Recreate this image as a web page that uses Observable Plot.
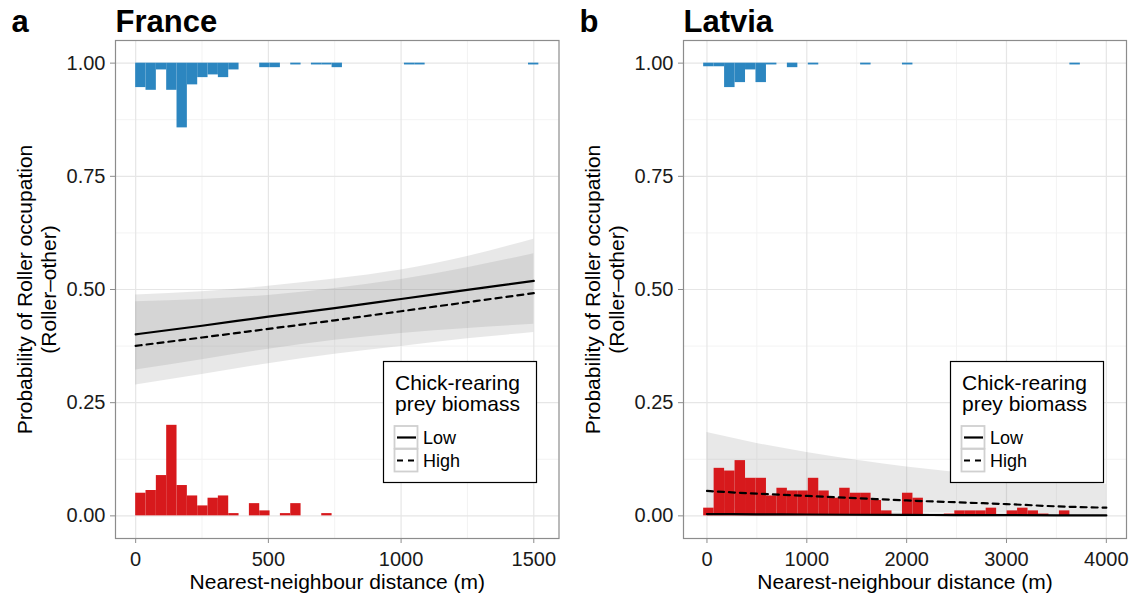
<!DOCTYPE html>
<html><head><meta charset="utf-8">
<script src="https://cdn.jsdelivr.net/npm/d3@7"></script>
<script src="https://cdn.jsdelivr.net/npm/@observablehq/plot@0.6"></script>
<style>
body{margin:0;background:#fff;font-family:"Liberation Sans",Arial,sans-serif;}
#wrap{position:relative;width:1141px;height:597px;overflow:hidden;background:#fff;}
#wrap > div, #wrap > svg{position:absolute;top:0;}
</style></head>
<body><div id="wrap"></div>
<script>
// ---------- France data ----------
const franceBinStart = 0, franceBinWidth = 38.95;
const franceRed  = [0.050,0.056,0.089,0.200,0.067,0.044,0.022,0.039,0.044,0.005,0,0.027,0.011,0,0.005,0.027,0,0,0.005];
const franceBlue = [0.054,0.060,0.015,0.060,0.143,0.048,0.032,0.026,0.032,0.015,0,0,0.010,0.010,0,0.004,0,0.004,0.004,0.010,0,0,0,0,0,0,0.004,0.004,0,0,0,0,0,0,0,0,0,0,0.004];
const franceX        = [0,250,500,750,1000,1250,1500];
const franceLow      = [0.401,0.420,0.440,0.459,0.479,0.499,0.519];
const franceHigh     = [0.3755,0.394,0.413,0.432,0.452,0.472,0.492];
const franceLowUpper = [0.488,0.495,0.507,0.523,0.543,0.573,0.611];
const franceLowLower = [0.322,0.345,0.368,0.388,0.403,0.414,0.423];
const franceHighUpper= [0.473,0.478,0.487,0.502,0.522,0.548,0.579];
const franceHighLower= [0.289,0.312,0.336,0.357,0.374,0.391,0.405];
const franceTicks = [0,500,1000,1500];

// ---------- Latvia data ----------
const latviaBinStart = -33, latviaBinWidth = 104.8;
const latviaRed  = [0.017,0.105,0.099,0.122,0.083,0.083,0.044,0.061,0.055,0.055,0.083,0.055,0.039,0.061,0.050,0.050,0.034,0.011,0,0.050,0.039,0,0,0.004,0.011,0.011,0.011,0.017,0,0.011,0.017,0.011,0.004,0,0.011,0];
const latviaBlue = [0.008,0.008,0.054,0.043,0.015,0.043,0.004,0,0.010,0,0.004,0,0,0,0,0.004,0,0,0,0.004,0,0,0,0,0,0,0,0,0,0,0,0,0,0,0,0.004];
const latviaX         = [0,500,1000,1500,2000,2500,3000,3500,4000];
const latviaLow       = [0.004,0.0035,0.003,0.0025,0.002,0.0018,0.0015,0.0012,0.001];
const latviaHigh      = [0.055,0.049,0.044,0.039,0.034,0.030,0.026,0.021,0.018];
const latviaHighUpper = [0.184,0.160,0.140,0.123,0.108,0.096,0.086,0.077,0.070];
const latviaHighLower = [0.016,0.014,0.012,0.010,0.008,0.007,0.006,0.005,0.004];
const latviaLowUpper  = [0.012,0.010,0.009,0.008,0.007,0.006,0.005,0.005,0.004];
const latviaLowLower  = [0.001,0.001,0.001,0.0005,0.0005,0.0004,0.0003,0.0002,0.0002];
const latviaTicks = [0,1000,2000,3000,4000];

const yTicks = [0,0.25,0.5,0.75,1];
const yMinor = [0.125,0.375,0.625,0.875];
const legendTitle = ["Chick-rearing","prey biomass"];
const legendLabels = ["Low","High"];

const RED = "#d7191c", BLUE = "#2c86c0";

function bins(heights, start, width, top){
  return heights.map((h,i)=>({x1:start+i*width, x2:start+(i+1)*width, y1: top ? 1-h : 0, y2: top ? 1 : h}))
                .filter(d=>d.y2>d.y1);
}
function series(xs, ys){ return xs.map((x,i)=>({x, y:ys[i]})); }
function band(xs, lo, hi){ return xs.map((x,i)=>({x, y1:lo[i], y2:hi[i]})); }

function panel(o){
  const majorX = o.ticks, minorX = o.ticks.slice(0,-1).map((t,i)=>(t+o.ticks[i+1])/2);
  return Plot.plot({
    width:o.width, height:597,
    marginLeft:o.ml, marginRight:o.mr, marginTop:40, marginBottom:59,
    style:{fontFamily:"Liberation Sans, Arial, sans-serif", fontSize:"20px", color:"#1a1a1a", background:"transparent"},
    x:{domain:o.xdomain, label:null},
    y:{domain:[-0.05,1.05], label:null},
    marks:[
      Plot.ruleX(minorX,{stroke:"#f3f3f3", strokeWidth:1}),
      Plot.ruleY(yMinor,{stroke:"#f3f3f3", strokeWidth:1}),
      Plot.ruleX(majorX,{stroke:"#e6e6e6", strokeWidth:1.2}),
      Plot.ruleY(yTicks,{stroke:"#e6e6e6", strokeWidth:1.2}),
      ...o.bands.map(b=>Plot.areaY(b,{x:"x", y1:"y1", y2:"y2", fill:"#808080", fillOpacity:0.18, curve:"monotone-x"})),
      Plot.rect(o.red,{x1:"x1",x2:"x2",y1:"y1",y2:"y2", fill:RED}),
      Plot.rect(o.blue,{x1:"x1",x2:"x2",y1:"y1",y2:"y2", fill:BLUE}),
      Plot.line(o.low,{x:"x", y:"y", stroke:"#000", strokeWidth:2.2, curve:"monotone-x"}),
      Plot.line(o.high,{x:"x", y:"y", stroke:"#000", strokeWidth:2.2, strokeDasharray:"6,5", curve:"monotone-x"}),
      Plot.frame({stroke:"#8c8c8c", strokeWidth:1.2}),
      Plot.axisX({ticks:majorX, tickFormat:d3.format("d"), tickSize:5, tickPadding:8, stroke:"#8c8c8c", fill:"#1a1a1a", fontSize:20, label:null}),
      Plot.axisY({ticks:yTicks, tickFormat:d3.format(".2f"), tickSize:5, tickPadding:5, stroke:"#8c8c8c", fill:"#1a1a1a", fontSize:20, label:null}),
      Plot.text(["Nearest-neighbour distance (m)"],{frameAnchor:"bottom", textAnchor:"middle", lineAnchor:"bottom", dy:50, fontSize:21, fill:"#000"}),
      Plot.text(["Probability of Roller occupation\n(Roller\u2013other)"],{frameAnchor:"left", textAnchor:"middle", lineAnchor:"middle", rotate:-90, dx:-79, fontSize:21, lineHeight:1.15, fill:"#000"}),
      Plot.text([o.title],{frameAnchor:"top-left", textAnchor:"start", lineAnchor:"bottom", dy:-9, fontSize:31, fontWeight:"bold", fill:"#000"}),
      Plot.text([o.letter],{frameAnchor:"top-left", textAnchor:"start", lineAnchor:"bottom", dy:-9, dx:o.letterDx, fontSize:31, fontWeight:"bold", fill:"#000"})
    ]
  });
}

function addLegend(svgNode, left, top){
  const g = d3.select(svgNode).append("g").attr("transform",`translate(${left},${top})`)
    .attr("font-family","Liberation Sans, Arial, sans-serif").attr("text-anchor","start");
  g.append("rect").attr("x",0.5).attr("y",0.5).attr("width",153).attr("height",121)
    .attr("fill","#fff").attr("stroke","#000").attr("stroke-width",1.2);
  legendTitle.forEach((t,i)=>g.append("text").attr("x",12).attr("y",29+i*21).attr("font-size",21).attr("fill","#000").text(t));
  legendLabels.forEach((t,i)=>{
    const y0 = 65 + i*23;
    g.append("rect").attr("x",11.5).attr("y",y0).attr("width",23).attr("height",22.5)
      .attr("fill","#fff").attr("stroke","#d0d0d0").attr("stroke-width",1.8);
    g.append("line").attr("x1",14).attr("x2",33).attr("y1",y0+11.5).attr("y2",y0+11.5)
      .attr("stroke","#000").attr("stroke-width",2.2).attr("stroke-dasharray", i===1 ? "6,5" : null);
    g.append("text").attr("x",40).attr("y",y0+17.5).attr("font-size",18).attr("fill","#000").text(t);
  });
}

const wrap = document.getElementById("wrap");

const fr = panel({
  width:570, ml:115, mr:11.5, xdomain:[-76,1595], ticks:franceTicks,
  title:"France", letter:"a", letterDx:-104,
  red:bins(franceRed, franceBinStart, franceBinWidth, false),
  blue:bins(franceBlue, franceBinStart, franceBinWidth, true),
  low:series(franceX, franceLow), high:series(franceX, franceHigh),
  bands:[band(franceX, franceLowLower, franceLowUpper), band(franceX, franceHighLower, franceHighUpper)]
});
fr.style.left = "0px";
wrap.appendChild(fr);
addLegend(fr, 383, 361);

const lv = panel({
  width:571, ml:113, mr:15, xdomain:[-235,4202], ticks:latviaTicks,
  title:"Latvia", letter:"b", letterDx:-104,
  red:bins(latviaRed, latviaBinStart, latviaBinWidth, false),
  blue:bins(latviaBlue, latviaBinStart, latviaBinWidth, true),
  low:series(latviaX, latviaLow), high:series(latviaX, latviaHigh),
  bands:[band(latviaX, latviaLowLower, latviaLowUpper), band(latviaX, latviaHighLower, latviaHighUpper)]
});
lv.style.left = "570px";
wrap.appendChild(lv);
addLegend(lv, 950-570, 361);
</script>
</body></html>
